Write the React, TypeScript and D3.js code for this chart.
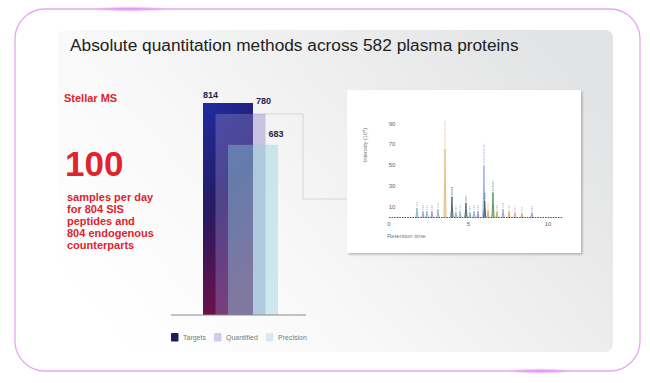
import React from "react";
import * as d3 from "d3";

const SERIES = ["Targets", "Quantified", "Precision"];
const VALUES = [814, 780, 683];

const TITLE = "Absolute quantitation methods across 582 plasma proteins";
const SIDE_HEAD = "Stellar MS";
const SIDE_BIG = "100";
const SIDE_LINES = ["samples per day", "for 804 SIS", "peptides and", "804 endogenous", "counterparts"];

// chromatogram inset
const PEAK_RT = [1.76, 2.14, 2.39, 2.7, 3.08, 3.52, 3.96, 4.21, 4.47, 4.84, 5.09, 5.35, 5.6, 5.97, 6.02, 6.23, 6.54, 6.79, 7.17, 7.55, 7.92, 8.36, 8.99];
const PEAK_H = [9, 6, 6, 6, 8, 66, 20, 5, 6, 14, 5, 6, 6, 50, 16, 7, 24, 6, 8, 6, 5, 4, 5];
const CH_Y_TICKS = [10, 30, 50, 70, 90];
const CH_X_TICKS = [0, 5, 10];

const PEAK_COLOR_IDX = [3, 9, 3, 7, 3, 0, 4, 9, 3, 4, 9, 3, 7, 1, 4, 5, 2, 8, 9, 5, 6, 8, 7];
const PALETTE = ["#e2b97a", "#8ea8e8", "#4f8f5c", "#7fb7c2", "#3f5a66", "#e6a35a", "#e39ab0", "#a48ad0", "#b8b060", "#8fa3b8"];

const FONT = "'Liberation Sans', Arial, Helvetica, sans-serif";
const RED = "#e1232c";

export default function App() {
  const W = 650, H = 383;

  // bars
  const bw = 50;
  const xBar = d3.scalePoint<string>().domain(SERIES).range([203, 228]);
  const yBar = d3.scaleLinear().domain([150, 814]).range([315, 103]);
  const barFill = ["url(#gTargets)", "#897fc5", "#89cfd9"];
  const barOpacity = [1, 0.42, 0.4];
  const legendSw = ["#1d1d5c", "#d0cce9", "#d3ecf1"];
  const legendX = [171, 214, 266];

  // chromatogram
  const cx = d3.scaleLinear().domain([0, 10]).range([389, 548]);
  const cy = d3.scaleLinear().domain([0, 90]).range([217.5, 123.5]);
  const peakLine = d3.line<[number, number]>().x(d => cx(d[0])).y(d => cy(d[1]));

  const connector = [
    [xBar("Targets")! + bw, 114],
    [303, 114],
    [303, 199],
    [347, 199],
  ];

  return (
    <svg width={W} height={H} style={{ position: "fixed", left: 0, top: 0, background: "#fff" }} fontFamily={FONT}>
      <defs>
        <linearGradient id="gPanel" x1="0" y1="0.75" x2="1" y2="0.25">
          <stop offset="0" stopColor="#ffffff" />
          <stop offset="0.35" stopColor="#f8f8f8" />
          <stop offset="1" stopColor="#e2e3e4" />
        </linearGradient>
        <linearGradient id="gTargets" x1="0" y1="0" x2="0.25" y2="1">
          <stop offset="0" stopColor="#1e2ca0" />
          <stop offset="0.5" stopColor="#261a62" />
          <stop offset="1" stopColor="#6e1048" />
        </linearGradient>
        <radialGradient id="gGlow">
          <stop offset="0" stopColor="#e58af5" stopOpacity="0.9" />
          <stop offset="1" stopColor="#e58af5" stopOpacity="0" />
        </radialGradient>
        <filter id="shadow" x="-10%" y="-10%" width="120%" height="125%">
          <feDropShadow dx="1.5" dy="1.5" stdDeviation="1.2" floodColor="#888" floodOpacity="0.6" />
        </filter>
      </defs>

      {/* outer frame */}
      <rect x={15} y={9} width={625} height={362} rx={30} fill="#fff" stroke="#e8a6f2" strokeWidth={1.3} />
      <ellipse cx={130} cy={9} rx={40} ry={3} fill="url(#gGlow)" />
      <ellipse cx={540} cy={371} rx={35} ry={3} fill="url(#gGlow)" />

      {/* panel */}
      <rect x={58} y={30} width={555} height={322} rx={8} fill="url(#gPanel)" />

      <text x={70} y={51} fontSize={17.3} fill="#222">{TITLE}</text>

      {/* side text */}
      <text x={64} y={102} fontSize={11} fontWeight="bold" fill={RED}>{SIDE_HEAD}</text>
      <text x={65} y={176} fontSize={35} fontWeight="bold" fill={RED}>{SIDE_BIG}</text>
      {SIDE_LINES.map((t, i) => (
        <text key={t} x={67} y={201 + i * 12} fontSize={11} fontWeight="bold" fill={RED}>{t}</text>
      ))}

      {/* connector */}
      <polyline points={connector.map(p => p.join(",")).join(" ")} fill="none" stroke="#d6d6d6" strokeWidth={1} />

      {/* bars */}
      {SERIES.map((s, i) => (
        <rect key={s} x={xBar(s)} y={yBar(VALUES[i])} width={bw} height={yBar.range()[0] - yBar(VALUES[i])}
          fill={barFill[i]} fillOpacity={barOpacity[i]} />
      ))}
      {SERIES.map((s, i) => (
        <text key={s} x={i === 0 ? xBar(s)! : xBar(SERIES[i - 1])! + bw + 3}
          y={yBar(VALUES[i]) - (i === 0 ? 5 : i === 1 ? 10 : 8)}
          fontSize={9} fontWeight="bold" fill="#23234f">{VALUES[i]}</text>
      ))}
      <line x1={171} x2={306} y1={315} y2={315} stroke="#8a8a8a" strokeWidth={1} />

      {/* legend */}
      {SERIES.map((s, i) => (
        <g key={s}>
          <rect x={legendX[i]} y={333} width={7.5} height={8.5} rx={1} fill={legendSw[i]} />
          <text x={legendX[i] + 12} y={340} fontSize={7} fill="#7a7a7a">{s}</text>
        </g>
      ))}

      {/* inset chromatogram */}
      <rect x={347} y={90} width={234} height={163} fill="#fff" filter="url(#shadow)" />
      {CH_Y_TICKS.map(t => (
        <text key={t} x={392} y={cy(t) + 2} fontSize={6} fill="#666" textAnchor="middle">{t}</text>
      ))}
      <text transform={`translate(367,${145}) rotate(-90)`} fontSize={5.5} fill="#777" textAnchor="middle">Intensity (10⁸)</text>
      {PEAK_RT.map((rt, i) => {
        const h = PEAK_H[i];
        const c = PALETTE[PEAK_COLOR_IDX[i]];
        const pts: [number, number][] = [[rt - 0.07, 0], [rt - 0.015, h * 0.6], [rt, h], [rt + 0.015, h * 0.6], [rt + 0.07, 0]];
        const lab = Math.max(5, Math.min(26, h * 0.4));
        return (
          <g key={i}>
            <path d={peakLine(pts)!} fill={c} fillOpacity={0.5} stroke={c} strokeWidth={0.9} />
            <line x1={cx(rt)} x2={cx(rt)} y1={cy(h) - 1.5} y2={cy(h) - 1.5 - lab} stroke={c} strokeWidth={1.6} strokeDasharray="1 0.8" opacity={0.6} />
          </g>
        );
      })}
      <line x1={cx(0)} x2={cx(10.9)} y1={cy(0)} y2={cy(0)} stroke="#555" strokeWidth={1} strokeDasharray="1.6 1" />
      {CH_X_TICKS.map(t => (
        <text key={t} x={cx(t)} y={226} fontSize={6} fill="#666" textAnchor="middle">{t}</text>
      ))}
      <text x={387} y={238} fontSize={6} fill="#777">Retention time</text>
    </svg>
  );
}
